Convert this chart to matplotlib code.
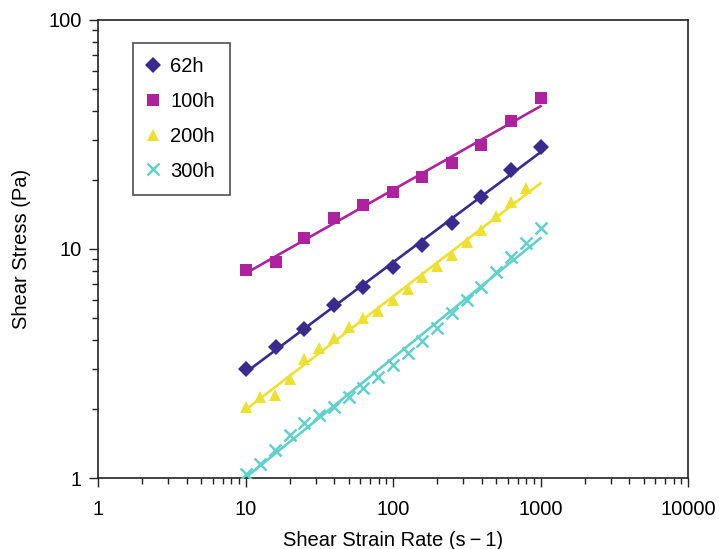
import numpy as np
import matplotlib
matplotlib.use("Agg")
import matplotlib.pyplot as plt

plt.rcParams['font.family'] = ['Liberation Sans', 'DejaVu Sans']

# Data
x_62 = [10, 16, 25, 40, 63, 100, 158, 251, 398, 631, 1000]
y_62 = [2.99, 3.73, 4.47, 5.7, 6.8, 8.35, 10.4, 13.0, 16.9, 22.1, 27.9]

x_100 = [10, 16, 25, 40, 63, 100, 158, 251, 398, 631, 1000]
y_100 = [8.1, 8.8, 11.2, 13.7, 15.6, 17.7, 20.6, 23.8, 28.5, 36.2, 45.6]

x_200 = [10, 12.6, 15.8, 20, 25, 31.6, 39.8, 50, 63, 79, 100, 126, 158, 200,
         251, 316, 398, 501, 631, 794]
y_200 = [2.04, 2.26, 2.30, 2.71, 3.31, 3.70, 4.08, 4.56, 5.0, 5.36, 5.99, 6.69,
         7.55, 8.43, 9.42, 10.7, 12.1, 13.9, 16.0, 18.5]

x_300 = [10, 12.6, 15.8, 20, 25, 31.6, 39.8, 50, 63, 79, 100, 126, 158, 200,
         251, 316, 398, 501, 631, 794, 1000]
y_300 = [1.04, 1.15, 1.33, 1.54, 1.74, 1.88, 2.04, 2.26, 2.47, 2.76, 3.11, 3.51,
         3.97, 4.52, 5.25, 5.99, 6.82, 7.94, 9.23, 10.6, 12.4]

labels = ['62h', '100h', '200h', '300h']
colors = ['#3A2A8E', '#AE22A0', '#ECE030', '#62D0CB']
markers = ['D', 's', '^', 'x']
msizes = [8.5, 9, 9, 8]
series = [(x_62, y_62), (x_100, y_100), (x_200, y_200), (x_300, y_300)]
fit_range = [10, 1000]

fig = plt.figure(figsize=(7.19, 5.49), dpi=100)
ax = fig.add_axes([0.1363, 0.1293, 0.8206, 0.8343])

for (xs, ys), lab, c, m, ms in zip(series, labels, colors, markers, msizes):
    xs = np.asarray(xs, float)
    ys = np.asarray(ys, float)
    # power-law trendline
    p = np.polyfit(np.log10(xs), np.log10(ys), 1)
    xf = np.array(fit_range, float)
    yf = 10 ** np.polyval(p, np.log10(xf))
    ax.plot(xf, yf, color=c, lw=1.9, zorder=2)
    if m == 'x':
        ax.plot(xs, ys, linestyle='none', marker=m, ms=ms, mew=1.8,
                color=c, label=lab, zorder=3)
    else:
        ax.plot(xs, ys, linestyle='none', marker=m, ms=ms, mew=0,
                color=c, label=lab, zorder=3)

ax.set_xscale('log')
ax.set_yscale('log')
ax.set_xlim(1, 10000)
ax.set_ylim(1, 100)
ax.set_xticks([1, 10, 100, 1000, 10000])
ax.set_xticklabels(['1', '10', '100', '1000', '10000'])
ax.set_yticks([1, 10, 100])
ax.set_yticklabels(['1', '10', '100'])
ax.tick_params(which='major', direction='out', length=6.5, width=1.0,
               labelsize=14.5, color='#222222')
ax.tick_params(axis='x', which='major', pad=9)
ax.tick_params(axis='y', which='major', pad=5)
ax.tick_params(which='minor', direction='out', length=4.5, width=1.0,
               color='#222222')
for s in ax.spines.values():
    s.set_linewidth(1.2)
    s.set_color('#222222')

ax.set_xlabel('Shear Strain Rate (s\u2009\u2212\u20091)', fontsize=14.5, labelpad=9)
ax.set_ylabel('Shear Stress (Pa)', fontsize=14.5, labelpad=13)

leg = ax.legend(loc='upper left', bbox_to_anchor=(0.059, 0.950),
                borderaxespad=0, fancybox=False, frameon=True,
                edgecolor='#222222', fontsize=14.5, labelspacing=0.78,
                handletextpad=0.55, handlelength=0.6, borderpad=0.72,
                numpoints=1)
leg.get_frame().set_linewidth(1.2)

fig.savefig('out.png', dpi=100)
